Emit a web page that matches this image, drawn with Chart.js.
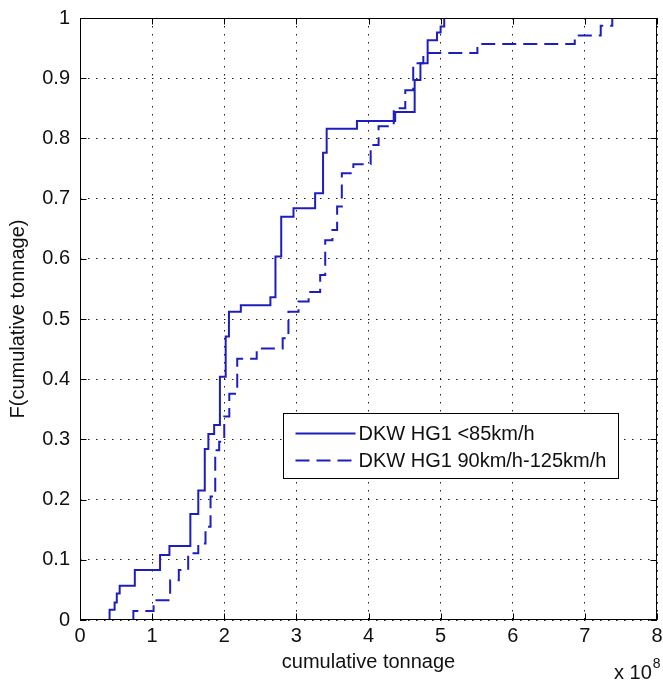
<!DOCTYPE html>
<html>
<head>
<meta charset="utf-8">
<title>Cumulative tonnage distribution</title>
<style>
  html, body { margin: 0; padding: 0; background: #ffffff; }
  #wrap { width: 663px; height: 682px; position: relative; }
</style>
<script src="https://cdn.jsdelivr.net/npm/chart.js@4/dist/chart.umd.min.js"></script>
</head>
<body>
<div id="wrap"><canvas id="c" width="663" height="682"></canvas></div>
<script>
// Series names
const seriesNames = ['DKW HG1 <85km/h', 'DKW HG1 90km/h-125km/h'];

// Empirical CDF, speed < 85 km/h: jump location (x 10^8 t) and value after the jump
const xSlow = [0.41, 0.41, 0.48, 0.51, 0.55, 0.76, 1.11, 1.24, 1.53, 1.64,
               1.73, 1.78, 1.86, 1.94, 2.02, 2.065, 2.23, 2.64, 2.71, 2.79,
               2.96, 3.26, 3.37, 3.42, 3.84, 4.37, 4.64, 4.72, 4.82, 4.95,
               5.00, 5.05];
const fSlow = [0, 0.017, 0.029, 0.044, 0.057, 0.083, 0.108, 0.123, 0.176, 0.215,
               0.284, 0.309, 0.324, 0.404, 0.471, 0.512, 0.523, 0.536, 0.604, 0.670,
               0.684, 0.709, 0.776, 0.816, 0.829, 0.844, 0.897, 0.925, 0.963, 0.976,
               0.986, 1.0];

// Empirical CDF, speed 90-125 km/h
const xFast = [0.74, 0.74, 1.02, 1.25, 1.37, 1.50, 1.64, 1.74, 1.81, 1.875,
               1.93, 2.00, 2.07, 2.18, 2.45, 2.81, 2.89, 3.03, 3.17, 3.33,
               3.40, 3.50, 3.565, 3.63, 3.79, 4.03, 4.14, 4.35, 4.51, 4.62,
               4.76, 5.51, 6.86, 7.22, 7.38];
const fFast = [0, 0.015, 0.033, 0.066, 0.083, 0.111, 0.127, 0.155, 0.205, 0.282,
               0.296, 0.338, 0.376, 0.434, 0.451, 0.468, 0.512, 0.529, 0.545, 0.573,
               0.631, 0.648, 0.687, 0.742, 0.757, 0.789, 0.820, 0.850, 0.880, 0.925,
               0.942, 0.957, 0.971, 0.987, 1.0];

// Axis ticks and labels
const xTicks = [0, 1, 2, 3, 4, 5, 6, 7, 8];
const yTicks = [0, 0.1, 0.2, 0.3, 0.4, 0.5, 0.6, 0.7, 0.8, 0.9, 1];
const xTitle = 'cumulative tonnage';
const yTitle = 'F(cumulative tonnage)';
const xExponentBase = 'x 10';
const xExponent = '8';

const FAMILY = "'Liberation Sans', Arial, sans-serif";
const FS = 20;
const TEXT = '#111111';
const LINE = 'rgb(30, 30, 190)';
const DASH = [14, 7];

function toPoints(xs, fs) {
  return xs.map((x, i) => ({ x: x, y: fs[i] }));
}

// Axes box, inward tick marks, legend and the x10^8 multiplier
const decorations = {
  id: 'decorations',
  afterDatasetsDraw(chart) {
    const { ctx, chartArea: a, scales: { x, y } } = chart;
    ctx.save();
    ctx.strokeStyle = '#000';
    ctx.lineWidth = 1;
    ctx.setLineDash([]);
    const L = Math.round(a.left) + 0.5, R = Math.round(a.right) - 0.5;
    const T = Math.round(a.top) + 0.5, B = Math.round(a.bottom) - 0.5;
    ctx.beginPath();
    xTicks.forEach(v => {
      const px = Math.round(x.getPixelForValue(v)) + 0.5;
      ctx.moveTo(px, B); ctx.lineTo(px, B - 6);
      ctx.moveTo(px, T); ctx.lineTo(px, T + 6);
    });
    yTicks.forEach(v => {
      const py = Math.round(y.getPixelForValue(v)) + 0.5;
      ctx.moveTo(L, py); ctx.lineTo(L + 6, py);
      ctx.moveTo(R, py); ctx.lineTo(R - 6, py);
    });
    ctx.stroke();
    ctx.strokeRect(L, T, R - L, B - T);

    // legend box
    const font = FS + 'px ' + FAMILY;
    ctx.font = font;
    const textW = Math.max(...chart.data.datasets.map(d => ctx.measureText(d.label).width));
    const bx = Math.round(a.left + 203) + 0.5;
    const by = Math.round(a.top + 395) + 0.5;
    const sampleL = bx + 12, sampleR = bx + 72, textX = bx + 75;
    const bw = Math.round(textX - bx + textW + 12);
    const bh = 65;
    ctx.fillStyle = '#fff';
    ctx.fillRect(bx, by, bw, bh);
    ctx.strokeStyle = '#000';
    ctx.strokeRect(bx, by, bw, bh);
    chart.data.datasets.forEach((d, i) => {
      const ry = by + 20 + i * 27;
      ctx.save();
      ctx.strokeStyle = d.borderColor;
      ctx.lineWidth = d.borderWidth;
      ctx.setLineDash(d.borderDash || []);
      ctx.beginPath();
      ctx.moveTo(sampleL, ry); ctx.lineTo(sampleR, ry);
      ctx.stroke();
      ctx.restore();
      ctx.fillStyle = TEXT;
      ctx.textBaseline = 'middle';
      ctx.textAlign = 'left';
      ctx.fillText(d.label, textX, ry + 1);
    });

    // multiplier below the right end of the x axis
    ctx.fillStyle = TEXT;
    ctx.textBaseline = 'alphabetic';
    ctx.textAlign = 'left';
    ctx.font = font;
    const ex = a.right - 43;
    ctx.fillText(xExponentBase, ex, 679);
    const w = ctx.measureText(xExponentBase).width;
    ctx.font = '14px ' + FAMILY;
    ctx.fillText(xExponent, ex + w + 1, 668);
    ctx.restore();
  }
};

new Chart(document.getElementById('c'), {
  type: 'scatter',
  data: {
    datasets: [
      {
        label: seriesNames[0],
        data: toPoints(xSlow, fSlow),
        showLine: true,
        stepped: 'before',
        borderColor: LINE,
        borderWidth: 2,
        pointRadius: 0,
        fill: false
      },
      {
        label: seriesNames[1],
        data: toPoints(xFast, fFast),
        showLine: true,
        stepped: 'before',
        borderColor: LINE,
        borderWidth: 2,
        borderDash: DASH,
        pointRadius: 0,
        fill: false
      }
    ]
  },
  options: {
    responsive: false,
    animation: false,
    devicePixelRatio: 1,
    layout: { padding: { top: 18, right: 6, left: 0, bottom: 0 } },
    plugins: { legend: { display: false }, tooltip: { enabled: false } },
    scales: {
      x: {
        type: 'linear',
        min: 0, max: 8,
        afterBuildTicks: s => { s.ticks = xTicks.map(v => ({ value: v })); },
        afterFit: s => { s.height = 62; s.paddingLeft = 0; s.paddingRight = 0; },
        ticks: {
          color: TEXT, font: { family: FAMILY, size: FS }, padding: 4,
          autoSkip: false, maxRotation: 0,
          callback: v => String(v)
        },
        grid: { color: '#1a1a1a', lineWidth: 1, drawTicks: false },
        border: { display: false, dash: [1.5, 6.5] },
        title: {
          display: true, text: xTitle, color: TEXT,
          font: { family: FAMILY, size: FS }, padding: { top: 0, bottom: 8 }
        }
      },
      y: {
        type: 'linear',
        min: 0, max: 1,
        afterBuildTicks: s => { s.ticks = yTicks.map(v => ({ value: v })); },
        afterFit: s => { s.width = 80; s.paddingTop = 0; s.paddingBottom = 0; },
        ticks: {
          color: TEXT, font: { family: FAMILY, size: FS }, padding: 10,
          callback: v => String(Number(v.toFixed(1)))
        },
        grid: { color: '#1a1a1a', lineWidth: 1, drawTicks: false },
        border: { display: false, dash: [1.5, 6.5] },
        title: {
          display: true, text: yTitle, color: TEXT,
          font: { family: FAMILY, size: FS }, padding: { top: 6, bottom: 0 }
        }
      }
    }
  },
  plugins: [decorations]
});
</script>
</body>
</html>
